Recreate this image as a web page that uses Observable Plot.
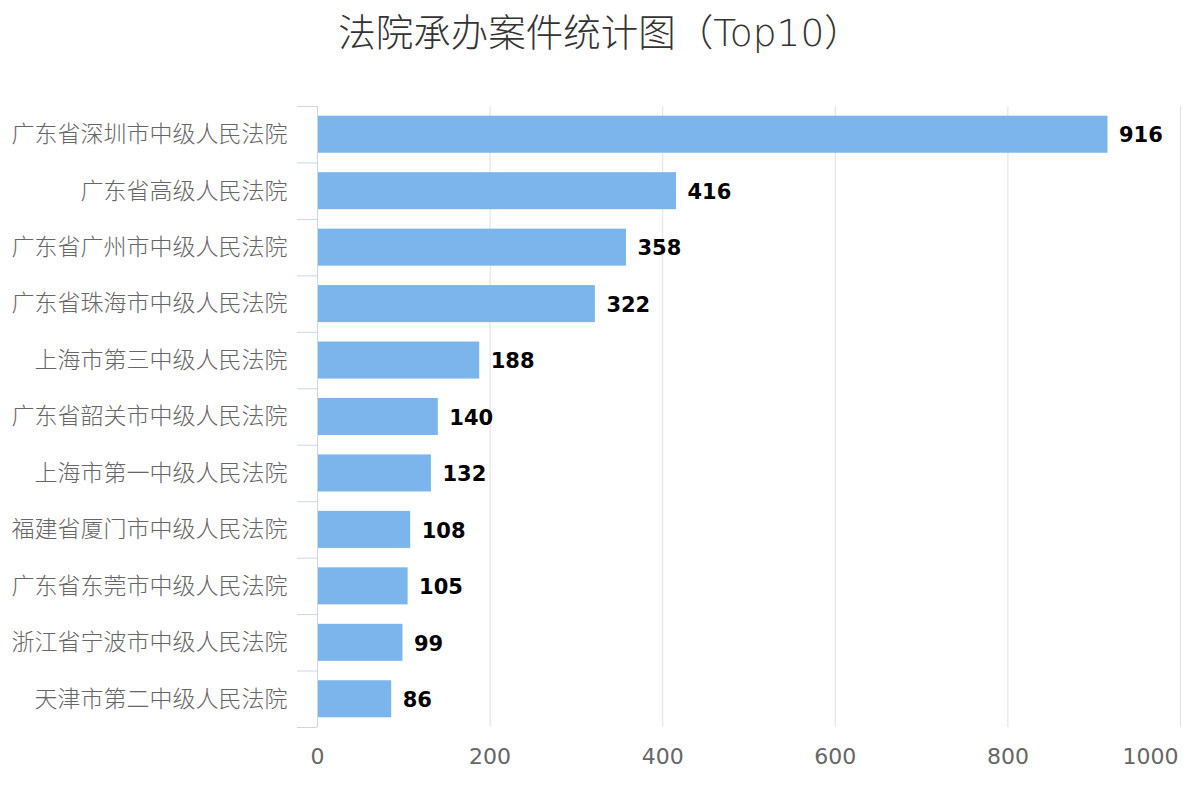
<!DOCTYPE html>
<html>
<head>
<meta charset="utf-8">
<script src="https://cdn.jsdelivr.net/npm/d3@7"></script>
<script src="https://cdn.jsdelivr.net/npm/@observablehq/plot@0.6"></script>
<style>
  html, body { margin: 0; padding: 0; background: #fff; }
  #title {
    width: 1200px; height: 80px; box-sizing: border-box;
    padding-top: 13px; text-align: center;
    font-family: "DejaVu Sans", "Noto Sans CJK SC", sans-serif;
    font-size: 37.5px; line-height: 40px; color: #333; font-weight: 300;
  }
</style>
</head>
<body>
<div id="title">法院承办案件统计图（Top10）</div>
<div id="chart"></div>
<script>
const courts = [
  "广东省深圳市中级人民法院",
  "广东省高级人民法院",
  "广东省广州市中级人民法院",
  "广东省珠海市中级人民法院",
  "上海市第三中级人民法院",
  "广东省韶关市中级人民法院",
  "上海市第一中级人民法院",
  "福建省厦门市中级人民法院",
  "广东省东莞市中级人民法院",
  "浙江省宁波市中级人民法院",
  "天津市第二中级人民法院"
];
const counts = [916, 416, 358, 322, 188, 140, 132, 108, 105, 99, 86];
const xTicks = [0, 200, 400, 600, 800, 1000];

const data = courts.map((c, i) => ({court: c, count: counts[i]}));

const font = "'DejaVu Sans', 'Noto Sans CJK SC', sans-serif";
const base = {
  width: 1200,
  height: 720,
  marginTop: 26,
  marginBottom: 73,
  marginLeft: 317,
  marginRight: 20,
  style: {fontFamily: font, background: "#fff", overflow: "visible"},
  x: {domain: [0, 1000]},
  y: {domain: courts, paddingInner: 0.344, paddingOuter: 0.172, round: false}
};

const probe = Plot.plot({...base, marks: [Plot.barX(data, {x: "count", y: "court"})]});
const step = probe.scale("y").step;

const lastTick = xTicks[xTicks.length - 1];
const chart = Plot.plot({
  ...base,
  marks: [
    Plot.gridX(xTicks.filter(d => d > 0), {stroke: "#e0e0e0", strokeOpacity: 1, strokeWidth: 1}),
    Plot.barX(data, {x: "count", y: "court", fill: "#7cb5ec"}),
    Plot.ruleX([0], {stroke: "#ccd6eb", strokeWidth: 1}),
    Plot.axisY({ticks: courts, text: null, tickSize: 20, dy: -step / 2, stroke: "#ccd6eb", label: null}),
    Plot.axisY({ticks: courts.slice(-1), text: null, tickSize: 20, dy: step / 2, stroke: "#ccd6eb", label: null}),
    Plot.axisY({tickSize: 0, tickPadding: 30, fontSize: 23, fill: "#666", fontWeight: 300, label: null}),
    Plot.axisX({ticks: xTicks.slice(0, -1), tickSize: 0, tickPadding: 21, fontSize: 22, fill: "#666",
                tickFormat: d3.format("d"), label: null}),
    Plot.axisX({ticks: [lastTick], tickSize: 0, tickPadding: 21, fontSize: 22, fill: "#666",
                textAnchor: "end", dx: -2, tickFormat: d3.format("d"), label: null}),
    Plot.text(data, {x: "count", y: "court", text: d => String(d.count), textAnchor: "start",
                     dx: 11, dy: 1, fontSize: 21, fontWeight: "bold", fill: "#000"})
  ]
});
document.getElementById("chart").appendChild(chart);
</script>
</body>
</html>
